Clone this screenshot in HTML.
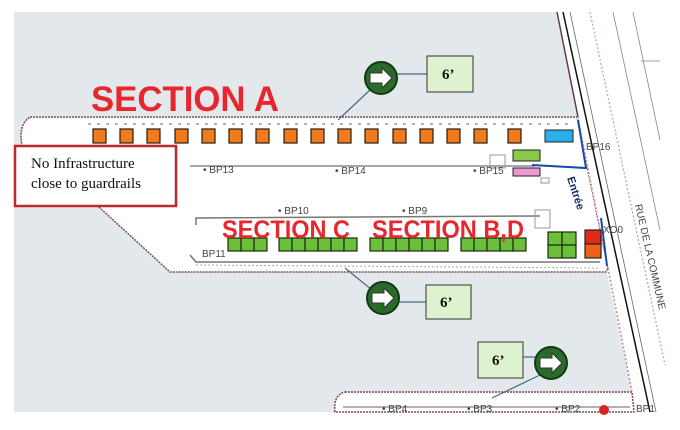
<!DOCTYPE html>
<html><head><meta charset="utf-8"><style>
html,body{margin:0;padding:0;background:#fff;}
svg{display:block;font-family:"Liberation Sans",sans-serif;}
</style></head><body>
<svg width="680" height="430" viewBox="0 0 680 430" xmlns="http://www.w3.org/2000/svg">
<rect x="0" y="0" width="680" height="430" fill="#fff"/>
<!-- gray background -->
<polygon points="14,12 557,12 577,115 606,268 632,392 650,412 14,412" fill="#e2e8ec"/>
<!-- main lot (white) -->
<path d="M30,117 L577,117 L608,268 L606,272 L170,272 L100,208 L22,145 Q18,125 30,117 Z" fill="#fff" stroke="#7a4a50" stroke-width="1.5" stroke-dasharray="2,1"/>
<!-- right strip white beyond lot -->
<polygon points="577,12 600,12 665,392 665,412 632,412 632,392 608,268 577,117" fill="#fff"/>
<polygon points="600,12 660,12 660,412 665,412 665,392" fill="#fff"/>
<!-- bottom lot -->
<path d="M345,392 L632,392 L634,412 L335,412 Q333,395 345,392 Z" fill="#fff" stroke="#7a4a50" stroke-width="1.5" stroke-dasharray="2,1"/>
<!-- road lines -->
<line x1="557" y1="12" x2="578" y2="117" stroke="#6a3a40" stroke-width="1.5"/>
<line x1="578" y1="117" x2="608" y2="268" stroke="#b88" stroke-width="1" stroke-dasharray="2,2"/>
<line x1="608" y1="268" x2="632" y2="392" stroke="#b88" stroke-width="1.5" stroke-dasharray="2,2"/>
<line x1="563" y1="12" x2="650" y2="412" stroke="#111" stroke-width="1.5"/>
<line x1="570" y1="12" x2="656" y2="412" stroke="#666" stroke-width="0.8"/>
<line x1="590" y1="12" x2="665" y2="365" stroke="#c9a" stroke-width="1.2" stroke-dasharray="2,2"/>
<line x1="613" y1="12" x2="660" y2="230" stroke="#888" stroke-width="0.8"/>
<line x1="633" y1="12" x2="660" y2="140" stroke="#888" stroke-width="0.8"/>
<line x1="641" y1="61" x2="660" y2="61" stroke="#888" stroke-width="0.8"/>
<!-- inner lines -->
<line x1="88" y1="124" x2="570" y2="124" stroke="#999" stroke-width="1.5" stroke-dasharray="3,6"/>
<line x1="190" y1="166" x2="535" y2="166" stroke="#888" stroke-width="1.5"/>
<path d="M196,225 L196,218 L540,216" fill="none" stroke="#777" stroke-width="1.5"/>
<path d="M190,255 L196,262 L600,262" fill="none" stroke="#777" stroke-width="1.5"/>
<line x1="196" y1="265" x2="600" y2="268" stroke="#aaa" stroke-width="1" stroke-dasharray="2,2"/>
<line x1="343" y1="407" x2="630" y2="407" stroke="#666" stroke-width="1"/>
<rect x="490" y="155" width="15" height="13" fill="none" stroke="#999"/>
<rect x="535" y="210" width="15" height="18" fill="none" stroke="#999"/>
<rect x="541" y="178" width="8" height="5" fill="none" stroke="#999"/>
<!-- BP labels -->
<g font-size="10" fill="#444">
<text x="203" y="173">• BP13</text>
<text x="335" y="174">• BP14</text>
<text x="473" y="174">• BP15</text>
<text x="586" y="150">BP16</text>
<text x="278" y="214">• BP10</text>
<text x="402" y="214">• BP9</text>
<text x="202" y="257">BP11</text>
<text x="382" y="412">• BP4</text>
<text x="467" y="412">• BP3</text>
<text x="555" y="412">• BP2</text>
<text x="636" y="412">BP1</text>
<text x="603" y="233">XO0</text>
</g>
<circle cx="604" cy="410" r="5" fill="#d22"/>
<!-- orange squares -->
<g fill="#f07a1c" stroke="#2a1a10" stroke-width="1.2">
<rect x="93" y="129" width="13" height="14"/><rect x="120" y="129" width="13" height="14"/><rect x="147" y="129" width="13" height="14"/><rect x="175" y="129" width="13" height="14"/><rect x="202" y="129" width="13" height="14"/><rect x="229" y="129" width="13" height="14"/><rect x="256" y="129" width="13" height="14"/><rect x="284" y="129" width="13" height="14"/><rect x="311" y="129" width="13" height="14"/><rect x="338" y="129" width="13" height="14"/><rect x="365" y="129" width="13" height="14"/><rect x="393" y="129" width="13" height="14"/><rect x="420" y="129" width="13" height="14"/><rect x="447" y="129" width="13" height="14"/><rect x="474" y="129" width="13" height="14"/><rect x="508" y="129" width="13" height="14"/>
</g>
<rect x="545" y="130" width="28" height="12" fill="#2ab0e8" stroke="#222"/>
<rect x="513" y="150" width="27" height="11" fill="#8cc84a" stroke="#222"/>
<rect x="513" y="168" width="27" height="8" fill="#e89ad0" stroke="#222"/>
<!-- blue entrance lines -->
<path d="M578,120 L586,168 L532,165" fill="none" stroke="#1a4aa8" stroke-width="2"/>
<line x1="601" y1="218" x2="607" y2="266" stroke="#1a4aa8" stroke-width="2"/>
<text x="0" y="0" font-size="11" font-weight="bold" fill="#1a2a6a" transform="translate(567,178) rotate(72)">Entrée</text>
<!-- green squares -->
<g fill="#6cbf3a" stroke="#1a2a10" stroke-width="1.2">
<rect x="228" y="238" width="13" height="13"/><rect x="241" y="238" width="13" height="13"/><rect x="254" y="238" width="13" height="13"/>
<rect x="279" y="238" width="13" height="13"/><rect x="292" y="238" width="13" height="13"/><rect x="305" y="238" width="13" height="13"/><rect x="318" y="238" width="13" height="13"/><rect x="331" y="238" width="13" height="13"/><rect x="344" y="238" width="13" height="13"/>
<rect x="370" y="238" width="13" height="13"/><rect x="383" y="238" width="13" height="13"/><rect x="396" y="238" width="13" height="13"/><rect x="409" y="238" width="13" height="13"/><rect x="422" y="238" width="13" height="13"/><rect x="435" y="238" width="13" height="13"/>
<rect x="461" y="238" width="13" height="13"/><rect x="474" y="238" width="13" height="13"/><rect x="487" y="238" width="13" height="13"/><rect x="500" y="238" width="13" height="13"/><rect x="513" y="238" width="13" height="13"/>
<rect x="548" y="232" width="14" height="13"/><rect x="562" y="232" width="14" height="13"/><rect x="548" y="245" width="14" height="13"/><rect x="562" y="245" width="14" height="13"/>
</g>
<rect x="585" y="230" width="16" height="14" fill="#e02a1a" stroke="#222" stroke-width="1.2"/>
<rect x="585" y="244" width="16" height="14" fill="#f0601c" stroke="#222" stroke-width="1.2"/>
<!-- section labels -->
<g fill="#e8262d" font-weight="bold">
<text x="91" y="111" font-size="35" textLength="188" lengthAdjust="spacingAndGlyphs">SECTION A</text>
<text x="222" y="238" font-size="25" textLength="128" lengthAdjust="spacingAndGlyphs">SECTION C</text>
<text x="372" y="238" font-size="25" textLength="152" lengthAdjust="spacingAndGlyphs">SECTION B,D</text>
</g>
<!-- red box -->
<rect x="15" y="146" width="161" height="60" fill="#fff" stroke="#c0272d" stroke-width="2.5"/>
<text x="31" y="168" font-family="Liberation Serif,serif" font-size="15" fill="#111">No Infrastructure</text>
<text x="31" y="188" font-family="Liberation Serif,serif" font-size="15" fill="#111">close to guardrails</text>
<!-- connectors -->
<g stroke="#4a6a80" stroke-width="1.2">
<line x1="370" y1="90" x2="338" y2="120"/><line x1="396" y1="74" x2="427" y2="74"/>
<line x1="372" y1="290" x2="345" y2="268"/><line x1="399" y1="302" x2="426" y2="302"/>
<line x1="540" y1="375" x2="492" y2="398"/><line x1="523" y1="357" x2="535" y2="357"/>
</g>
<!-- arrow circles -->
<g>
<g transform="translate(381,78)"><circle r="16" fill="#2a6a2a" stroke="#123a12" stroke-width="2"/><polygon points="-11,-5 1,-5 1,-10 11,0 1,10 1,5 -11,5" fill="#fff" stroke="#333" stroke-width="1"/></g>
<g transform="translate(383,298)"><circle r="16" fill="#2a6a2a" stroke="#123a12" stroke-width="2"/><polygon points="-11,-5 1,-5 1,-10 11,0 1,10 1,5 -11,5" fill="#fff" stroke="#333" stroke-width="1"/></g>
<g transform="translate(551,363)"><circle r="16" fill="#2a6a2a" stroke="#123a12" stroke-width="2"/><polygon points="-11,-5 1,-5 1,-10 11,0 1,10 1,5 -11,5" fill="#fff" stroke="#333" stroke-width="1"/></g>
</g>
<!-- 6' boxes -->
<g font-family="Liberation Serif,serif" font-weight="bold" font-size="15" fill="#111">
<rect x="427" y="56" width="46" height="36" fill="#dff2cf" stroke="#333"/><text x="442" y="79">6’</text>
<rect x="426" y="285" width="45" height="34" fill="#dff2cf" stroke="#333"/><text x="440" y="307">6’</text>
<rect x="478" y="342" width="45" height="36" fill="#dff2cf" stroke="#333"/><text x="492" y="365">6’</text>
</g>
<text x="0" y="0" font-size="10" fill="#444" transform="translate(635,205) rotate(77)">RUE DE LA COMMUNE</text>
</svg>
</body></html>
